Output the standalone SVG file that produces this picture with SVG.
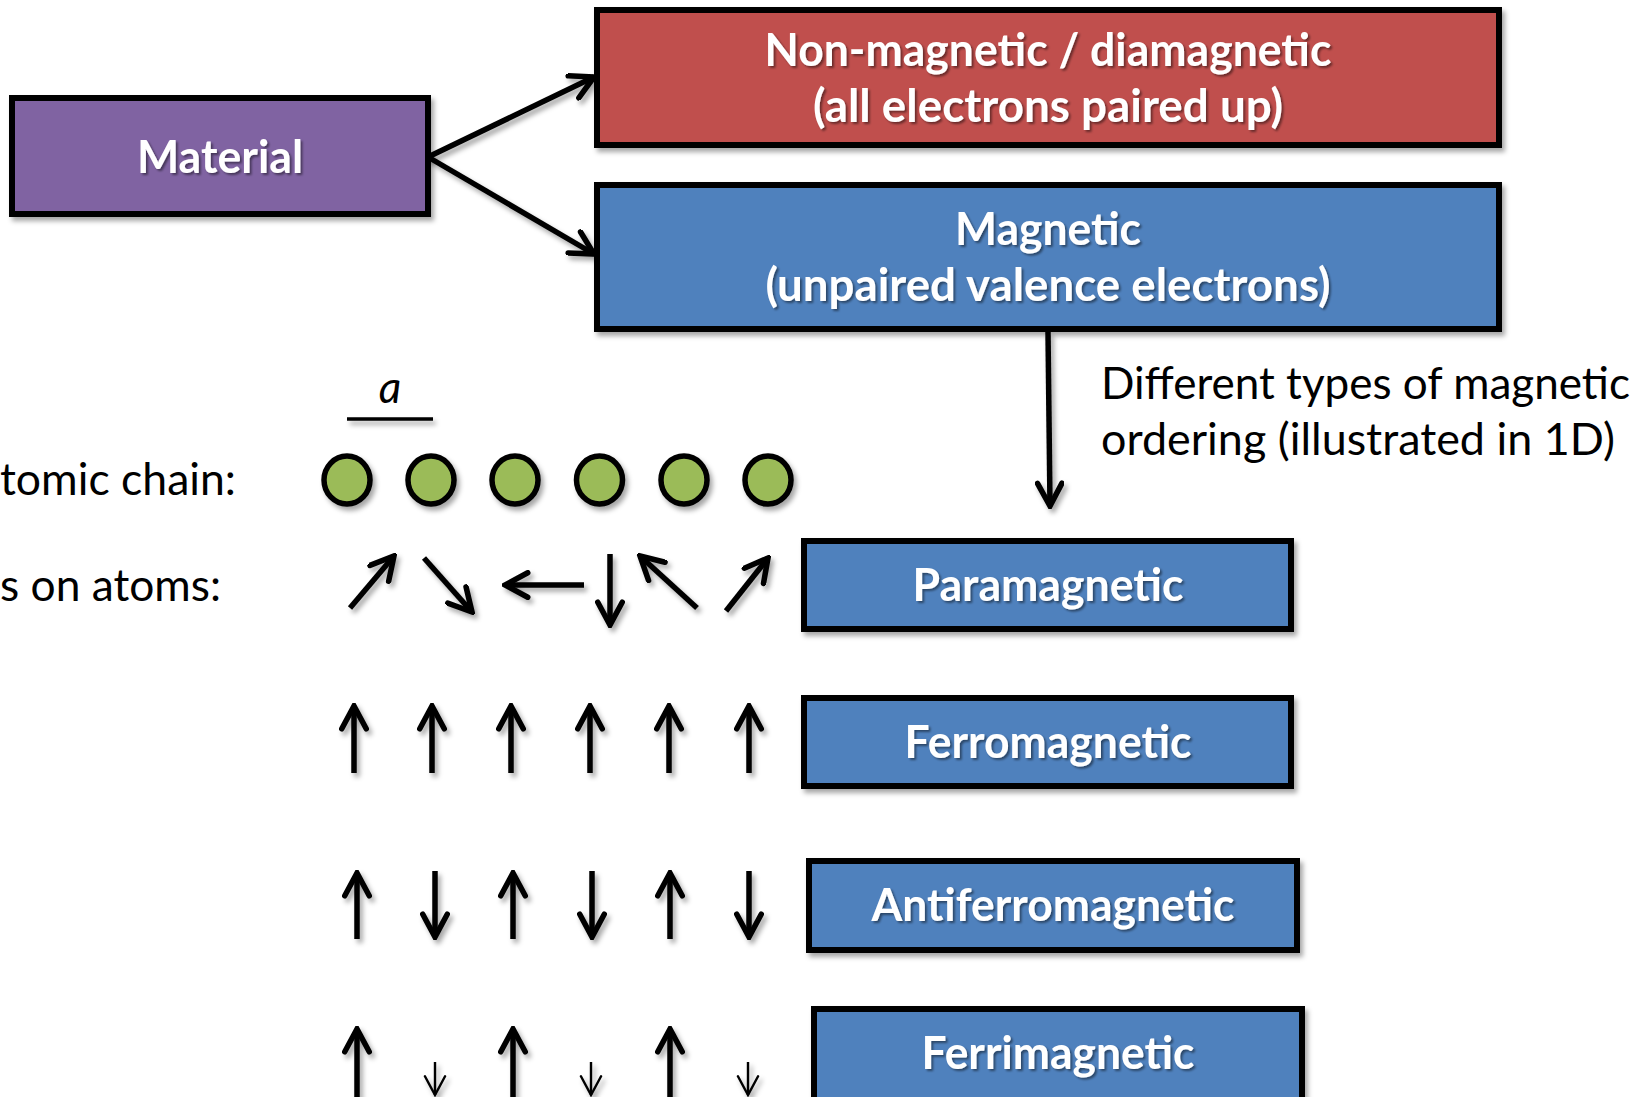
<svg xmlns="http://www.w3.org/2000/svg" width="1649" height="1097" viewBox="0 0 1649 1097">
<defs>
<filter id="sh" filterUnits="userSpaceOnUse" x="-20" y="-20" width="1700" height="1140"><feDropShadow dx="3" dy="4" stdDeviation="2.5" flood-color="#000" flood-opacity="0.35"/></filter>
<filter id="tsh" filterUnits="userSpaceOnUse" x="-20" y="-20" width="1700" height="1140"><feDropShadow dx="2" dy="2" stdDeviation="1.2" flood-color="#000" flood-opacity="0.45"/></filter>
<marker id="ah" viewBox="0 0 10 10" refX="9" refY="5" markerWidth="5.3" markerHeight="5.3" orient="auto" markerUnits="strokeWidth"><path d="M1.2,0.8 L9,5 L1.2,9.2" fill="none" stroke="#000" stroke-width="1.9" stroke-linecap="round" stroke-linejoin="miter"/></marker>
<marker id="ahs" viewBox="0 0 10 10" refX="9" refY="5" markerWidth="10" markerHeight="10" orient="auto" markerUnits="strokeWidth"><path d="M1.2,0.8 L9,5 L1.2,9.2" fill="none" stroke="#000" stroke-width="1" stroke-linecap="round" stroke-linejoin="miter"/></marker>
</defs>
<style>
.box{stroke:#000;stroke-width:6;filter:url(#sh)}
.bt{font-family:Lato,"Open Sans",sans-serif;font-weight:bold;font-size:45px;fill:#fff;text-anchor:middle;filter:url(#tsh)}
.lt{font-family:Lato,"Open Sans",sans-serif;font-size:44px;fill:#000}
.con{stroke:#000;stroke-width:5.5;fill:none;marker-end:url(#ah);filter:url(#sh)}
.thin{stroke:#000;stroke-width:2.4;fill:none;marker-end:url(#ahs);filter:url(#sh)}
.atom{fill:#9bbb59;stroke:#000;stroke-width:5.5;filter:url(#sh)}
</style>
<rect width="1649" height="1097" fill="#fff"/>

<g id="connectors">
<line class="con" x1="428" y1="157" x2="594" y2="77"/>
<line class="con" x1="428" y1="157" x2="594" y2="254"/>
<line class="con" x1="1048" y1="332" x2="1050" y2="506"/>
</g>

<g id="material"><rect class="box" x="12" y="98" width="416" height="116" fill="#8064a2"/><text class="bt" x="220" y="173" font-size="47" textLength="166" lengthAdjust="spacingAndGlyphs">Material</text></g>

<g id="nonmagnetic"><rect class="box" x="597" y="10" width="902" height="135" fill="#c0504d"/>
<text class="bt" x="1048" y="66" textLength="567" lengthAdjust="spacingAndGlyphs">Non-magnetic / diamagnetic</text>
<text class="bt" x="1048" y="122" textLength="470" lengthAdjust="spacingAndGlyphs">(all electrons paired up)</text></g>

<g id="magnetic"><rect class="box" x="597" y="185" width="902" height="144" fill="#4f81bd"/>
<text class="bt" x="1048" y="245" textLength="186" lengthAdjust="spacingAndGlyphs">Magnetic</text>
<text class="bt" x="1048" y="301" textLength="565" lengthAdjust="spacingAndGlyphs">(unpaired valence electrons)</text></g>

<g id="label-ordering">
<text class="lt" x="1101" y="399" textLength="529" lengthAdjust="spacingAndGlyphs">Different types of magnetic</text>
<text class="lt" x="1101" y="455" textLength="514" lengthAdjust="spacingAndGlyphs">ordering (illustrated in 1D)</text>
</g>

<g id="lattice-label">
<text class="lt" x="390" y="403" font-style="italic" text-anchor="middle">a</text>
<line x1="347" y1="419" x2="433" y2="419" stroke="#000" stroke-width="3.5" filter="url(#sh)"/>
</g>

<g id="row-labels">
<text class="lt" x="0" y="495" textLength="236" lengthAdjust="spacingAndGlyphs">tomic chain:</text>
<text class="lt" x="0" y="601" textLength="221" lengthAdjust="spacingAndGlyphs">s on atoms:</text>
</g>

<g id="atoms">
<ellipse class="atom" cx="347" cy="480" rx="23" ry="24"/>
<ellipse class="atom" cx="431" cy="480" rx="23" ry="24"/>
<ellipse class="atom" cx="515" cy="480" rx="23" ry="24"/>
<ellipse class="atom" cx="599.5" cy="480" rx="23" ry="24"/>
<ellipse class="atom" cx="684" cy="480" rx="23" ry="24"/>
<ellipse class="atom" cx="768" cy="480" rx="23" ry="24"/>
</g>

<g id="spins-para">
<line class="con" x1="350" y1="608" x2="394" y2="556"/>
<line class="con" x1="424" y1="558" x2="472" y2="612"/>
<line class="con" x1="584" y1="585" x2="505" y2="585"/>
<line class="con" x1="610" y1="554" x2="610" y2="625"/>
<line class="con" x1="697" y1="608" x2="640" y2="556"/>
<line class="con" x1="726" y1="611" x2="768" y2="558"/>
</g>
<g id="paramagnetic"><rect class="box" x="804" y="541" width="487" height="88" fill="#4f81bd"/><text class="bt" x="1048" y="601" textLength="271" lengthAdjust="spacingAndGlyphs">Paramagnetic</text></g>

<g id="spins-ferro">
<line class="con" x1="354" y1="773" x2="354" y2="706"/>
<line class="con" x1="432" y1="773" x2="432" y2="706"/>
<line class="con" x1="511" y1="773" x2="511" y2="706"/>
<line class="con" x1="590" y1="773" x2="590" y2="706"/>
<line class="con" x1="669" y1="773" x2="669" y2="706"/>
<line class="con" x1="749" y1="773" x2="749" y2="706"/>
</g>
<g id="ferromagnetic"><rect class="box" x="804" y="698" width="487" height="88" fill="#4f81bd"/><text class="bt" x="1048" y="758" textLength="287" lengthAdjust="spacingAndGlyphs">Ferromagnetic</text></g>

<g id="spins-antiferro">
<line class="con" x1="357" y1="939" x2="357" y2="873"/>
<line class="con" x1="435" y1="871" x2="435" y2="937"/>
<line class="con" x1="513" y1="939" x2="513" y2="873"/>
<line class="con" x1="592" y1="871" x2="592" y2="937"/>
<line class="con" x1="670" y1="939" x2="670" y2="873"/>
<line class="con" x1="749" y1="871" x2="749" y2="937"/>
</g>
<g id="antiferromagnetic"><rect class="box" x="809" y="861" width="488" height="89" fill="#4f81bd"/><text class="bt" x="1053" y="921" textLength="363" lengthAdjust="spacingAndGlyphs">Antiferromagnetic</text></g>

<g id="spins-ferri">
<line class="con" x1="357" y1="1110" x2="357" y2="1029"/>
<line class="thin" x1="435" y1="1062" x2="435" y2="1095"/>
<line class="con" x1="513" y1="1110" x2="513" y2="1029"/>
<line class="thin" x1="591" y1="1062" x2="591" y2="1095"/>
<line class="con" x1="670" y1="1110" x2="670" y2="1029"/>
<line class="thin" x1="748" y1="1062" x2="748" y2="1095"/>
</g>
<g id="ferrimagnetic"><rect class="box" x="814" y="1009" width="488" height="110" fill="#4f81bd"/><text class="bt" x="1058" y="1069" textLength="273" lengthAdjust="spacingAndGlyphs">Ferrimagnetic</text></g>
</svg>
